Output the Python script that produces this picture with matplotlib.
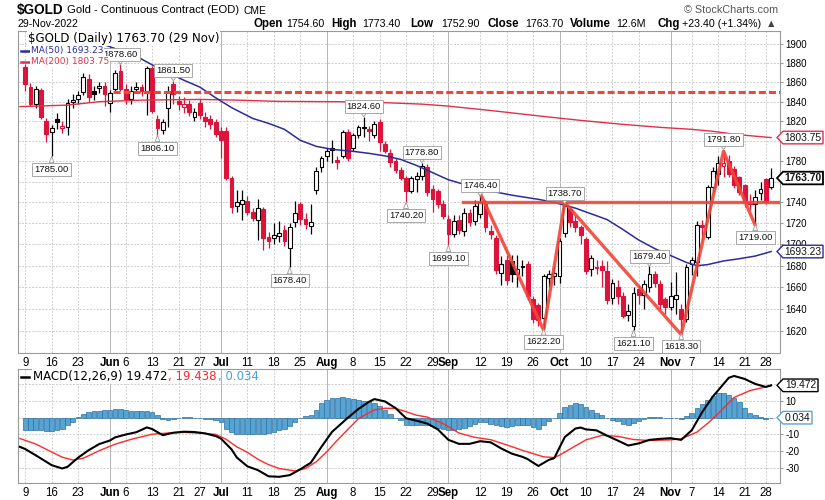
import numpy as np
import pandas as pd
import matplotlib
matplotlib.use("Agg")
import matplotlib.pyplot as plt
from matplotlib.patches import Polygon
from matplotlib.ticker import NullLocator, NullFormatter

plt.rcParams["font.family"] = ["Liberation Sans", "DejaVu Sans"]

W, H = 825, 500

# trading days shown on the chart
holidays = ["2022-05-30", "2022-06-20", "2022-07-04", "2022-09-05", "2022-11-24"]
days = pd.bdate_range("2022-05-09", "2022-11-29")
days = days[~days.isin(pd.to_datetime(holidays))]

# daily candles, grouped by week
opens = [1876, 1855, 1838, 1852, 1820,
         1809, 1822, 1813, 1814, 1840,
         1843, 1850, 1863, 1851, 1854,
         1856,
         1839, 1853, 1872,
         1853, 1843, 1853, 1855, 1851,
         1875, 1822, 1811, 1834, 1858,
         1841, 1835, 1838, 1824,
         1839, 1824, 1822, 1819,
         1810,
         1810, 1764, 1737, 1738,
         1741, 1731, 1723, 1734, 1707,
         1706, 1708, 1714, 1697, 1721,
         1738, 1724, 1717, 1752, 1775,
         1785, 1793, 1781, 1785, 1809,
         1793, 1806, 1813, 1812, 1806,
         1819.6, 1797, 1788, 1780, 1772,
         1764, 1751.4, 1763, 1766, 1775,
         1753, 1751, 1738,
         1724, 1710,
         1723, 1713, 1730, 1722,
         1729, 1738.5, 1713, 1706, 1673,
         1685.6, 1684, 1672, 1680, 1682,
         1649, 1644, 1632, 1669, 1670,
         1670, 1711, 1734, 1722, 1716,
         1705, 1677, 1678, 1680, 1675,
         1650, 1660, 1652, 1634.8, 1624.7,
         1658, 1653, 1660, 1672, 1663,
         1649,
         1642, 1649, 1640.5, 1631,
         1681.8, 1683.4, 1718, 1707, 1755,
         1768, 1775.5, 1780, 1772.4, 1764.5,
         1756.5, 1740, 1738.3, 1749.6,
         1762.5, 1754.6]
highs = [1879, 1859, 1856, 1854, 1823,
         1816, 1828, 1820, 1843, 1848,
         1851, 1869, 1868, 1856, 1860,
         1860,
         1852, 1873, 1878.6,
         1858, 1856, 1860, 1858, 1877,
         1877, 1826, 1822, 1856, 1861.5,
         1846, 1845, 1842, 1834,
         1843, 1830, 1826, 1822,
         1814,
         1814, 1766, 1752, 1752,
         1746, 1735, 1743, 1736, 1712,
         1720, 1722, 1718, 1720, 1741,
         1740, 1730, 1738, 1775, 1785,
         1793, 1801, 1785, 1811, 1812,
         1808, 1816, 1824.6, 1815, 1820,
         1822, 1800, 1792, 1783, 1775,
         1766, 1766, 1770, 1778.8, 1777,
         1757, 1753, 1742,
         1728, 1728,
         1728, 1735, 1734, 1742,
         1746.4, 1742, 1718, 1709, 1689,
         1690, 1690, 1690, 1685, 1684,
         1652, 1646, 1672, 1676, 1680,
         1706, 1738.7, 1737, 1728, 1718,
         1707, 1690, 1685, 1685, 1684,
         1668, 1667, 1656, 1645, 1660,
         1662, 1667, 1679.4, 1675, 1667,
         1651,
         1665, 1674, 1645, 1682,
         1688, 1722, 1723, 1757, 1775,
         1785, 1791.8, 1786, 1776, 1766,
         1758, 1748, 1752, 1760,
         1764, 1773.4]
lows = [1851, 1836, 1834, 1822, 1799,
        1785, 1812, 1808, 1806, 1834,
        1838, 1847, 1840, 1842, 1849,
        1836,
        1829, 1850, 1851,
        1838, 1838, 1849, 1846, 1826,
        1828, 1806.1, 1807, 1814, 1838,
        1832, 1828, 1825, 1820,
        1822, 1814, 1812, 1804,
        1783,
        1762, 1730, 1731, 1723,
        1728, 1722, 1704, 1695, 1697,
        1700, 1702, 1698, 1678.4, 1716,
        1718, 1715, 1710, 1748, 1770,
        1780, 1778.6, 1773, 1783, 1780,
        1790, 1803, 1804, 1800, 1803,
        1790, 1788, 1775, 1769, 1762,
        1740.2, 1749, 1750, 1762, 1746,
        1731, 1735, 1724,
        1699.1, 1707,
        1710, 1708, 1717, 1718,
        1725, 1712, 1705, 1672, 1662,
        1662, 1665, 1660, 1670, 1648,
        1627, 1625, 1622.2, 1660, 1662,
        1664, 1707, 1716, 1712, 1700,
        1672, 1670, 1672, 1660, 1645,
        1645, 1645, 1632, 1629, 1621.1,
        1645, 1640, 1656, 1660, 1640,
        1636,
        1639, 1636, 1618.3, 1628,
        1671, 1670, 1704, 1705, 1750,
        1757, 1765, 1765, 1754, 1747,
        1736, 1733, 1719, 1742,
        1738, 1752.9]
closes = [1858, 1838, 1853, 1824, 1807,
          1813, 1819, 1815, 1839, 1842,
          1847, 1865, 1845, 1848, 1856,
          1848,
          1849, 1870, 1853,
          1843, 1851, 1855, 1851, 1875,
          1831, 1813, 1819, 1850, 1848,
          1838, 1837.5, 1829, 1830,
          1826, 1820.5, 1817, 1807,
          1801,
          1764, 1736, 1740, 1742,
          1731, 1725, 1735, 1706, 1703,
          1709, 1711, 1703, 1716, 1730,
          1724, 1719, 1721, 1771, 1783,
          1790, 1791.5, 1779, 1809, 1783,
          1806, 1814, 1814.5, 1810, 1817,
          1799.4, 1790, 1779, 1772, 1764,
          1751.4, 1764.2, 1765.5, 1775.4, 1750,
          1743, 1738.5, 1727,
          1710, 1722.4,
          1714, 1730, 1721, 1737,
          1740, 1716, 1710, 1676, 1682,
          1666.4, 1672, 1677, 1679, 1652,
          1631, 1630, 1670, 1672, 1673,
          1703.5, 1737, 1721, 1716, 1709,
          1675, 1687.5, 1679, 1676, 1648.7,
          1664, 1652, 1634, 1638, 1655,
          1653, 1662.6, 1672.6, 1664, 1645,
          1642,
          1652, 1653, 1631, 1678.6,
          1684.9, 1718, 1716.5, 1754.9, 1770.8,
          1778.7, 1778, 1768, 1756.5, 1750,
          1740, 1738, 1745.6, 1753,
          1740.3, 1763.7]

# moving averages read at a few days (day number = trading-day index)
ma50_day = [8, 12, 15, 18, 21, 24, 27, 30, 33, 36, 39, 43, 46, 49, 52, 55, 58, 62, 65, 68, 71,
            74, 77, 80, 84, 88, 92, 97, 100, 104, 107, 110, 113, 116, 119, 122, 125, 127, 129,
            132, 135, 138, 141]
ma50_val = [1914, 1905, 1899, 1893, 1887, 1878, 1870, 1862, 1855, 1844, 1834, 1823, 1818, 1812,
            1801, 1795, 1792, 1790, 1788, 1785.5, 1782, 1776, 1769, 1762, 1756, 1751, 1747, 1743,
            1740, 1734.5, 1729, 1723.5, 1714, 1704, 1696, 1689.5, 1683, 1680, 1681, 1684.4,
            1686.5, 1689, 1693.23]
ma200_day = [-1, 8, 14, 22, 33, 40, 48, 59, 68, 75, 80, 88, 97, 105, 113, 120, 126, 130, 135, 141]
ma200_val = [1835, 1836.5, 1840, 1841.6, 1842.3, 1841.6, 1840.3, 1840, 1839, 1837.5, 1835.5,
             1831, 1825.6, 1821, 1817, 1814, 1812, 1810, 1806.5, 1803.75]

# swing labels
swing_dates = ["2022-05-16", "2022-06-03", "2022-06-14", "2022-06-17", "2022-07-21",
               "2022-08-10", "2022-08-22", "2022-08-25", "2022-09-01", "2022-09-12",
               "2022-09-28", "2022-10-04", "2022-10-21", "2022-10-26", "2022-11-03",
               "2022-11-15", "2022-11-23"]
swing_prices = [1785.00, 1878.60, 1806.10, 1861.50, 1678.40, 1824.60, 1740.20, 1778.80,
                1699.10, 1746.40, 1622.20, 1738.70, 1621.10, 1679.40, 1618.30, 1791.80, 1719.00]
swing_sides = ["low", "high", "low", "high", "low", "high", "low", "high", "low", "high",
               "low", "high", "low", "high", "low", "high", "low"]

# hand-drawn lines
zig_dates = ["2022-09-12", "2022-09-28", "2022-10-04", "2022-11-03", "2022-11-15", "2022-11-23"]
zig_vals = [1749, 1621, 1740, 1617, 1790, 1718]
resist_level = 1740
resist_start = 82.8
dash_level = 1850
dash_start = 16.6

# MACD(12,26,9)
macd_day = [-1, 0, 2, 4, 5, 7, 8, 10, 12, 14, 16, 17, 19, 21, 23, 24, 26, 28, 30, 32, 34, 36, 37,
            39, 40, 42, 44, 46, 48, 50, 52, 54, 56, 58, 61, 63, 65, 66, 68, 70, 72, 74, 76, 78,
            80, 82, 84, 86, 88, 90, 92, 94, 95, 97, 99, 100, 102, 104, 105, 106, 108, 110, 112,
            114, 116, 118, 120, 122, 124, 126, 128, 130, 131, 133, 134, 136, 138, 140, 141]
macd_val = [-17.5, -18.8, -22.6, -26.5, -28.5, -30.5, -29.5, -24, -19.5, -15.8, -13.7, -11.8,
            -10.1, -8.7, -5.8, -6.8, -10.5, -9, -8.4, -8.6, -9.4, -11, -12.5, -19, -23.9, -29.2,
            -31.5, -35.2, -35.5, -34.5, -31, -27, -17.5, -8.5, 0, 5.3, 9.6, 11.2, 9.8, 5.8, -0.3,
            -1.8, -3.5, -7, -13.3, -15.7, -15.7, -14.1, -14.8, -18.5, -21.6, -23.5, -24.9, -29,
            -25.3, -24.3, -11.6, -6.5, -5.9, -7, -7.6, -10.8, -13.7, -16.7, -15.4, -13.3, -12.7,
            -12.3, -13.3, -7.5, 3.5, 12.8, 16.5, 24, 25.1, 23.3, 20.3, 18.5, 19.472]
signal_day = [-1, 2, 5, 7, 9, 11, 14, 17, 20, 24, 27, 30, 33, 36, 38, 40, 42, 44, 46, 48, 51, 53,
              55, 57, 59, 61, 63, 66, 68, 70, 72, 74, 76, 79, 82, 85, 88, 91, 94, 98, 100, 101,
              103, 106, 109, 112, 115, 118, 122, 124, 127, 129, 131, 132, 134, 137, 139, 141]
signal_val = [-12.5, -15.8, -20.6, -23.7, -25.4, -24.3, -19.8, -15.9, -13, -9.9, -9.2, -8.8,
              -9.2, -10, -13, -17.5, -20.8, -25, -28.2, -30.5, -32, -30.5, -26.5, -20.5, -13.5,
              -7, -0.5, 4.7, 5.7, 5.6, 3.6, 1.5, 0.4, -3.5, -9.2, -11.8, -13.2, -16.3, -19.6,
              -23.5, -23.9, -22.5, -18.8, -13.3, -10.6, -11.2, -13.1, -13.7, -13.3, -12.7, -8.6,
              -3.4, 2.5, 5.7, 12.2, 16.3, 17.8, 19.438]
hist_val = [-7.6, -7.6, -7.6, -7.6, -8.0, -8.0, -7.6, -6.5, -4.5, -2.4,
            0.2, 2.2, 3.5, 3.9, 4.3, 4.5, 4.7, 5.1, 5.5, 4.7,
            4.3, 4.1, 4.1, 4.1, 3.7, 1.6, -1.0, -1.4, -0.6, 0.0,
            0.2, 0.2, 0.0, -0.2, -0.6, -1.0, -1.4, -2.4, -6.5, -8.6,
            -9.6, -9.6, -9.6, -9.6, -9.6, -9.6, -9.2, -8.6, -7.6, -6.5,
            -5.1, -2.4, 0.0, 1.0, 1.6, 4.7, 8.8, 10.8, 11.6, 11.8,
            12.4, 11.8, 11.4, 10.8, 10.2, 9.8, 8.8, 7.1, 4.7, 2.2,
            -0.4, -1.4, -4.5, -4.5, -4.5, -4.5, -4.5, -5.1, -5.9, -6.5,
            -7.6, -7.1, -6.5, -5.9, -5.1, -3.9, -2.4, -2.4, -3.5, -4.5,
            -5.1, -5.5, -5.1, -4.5, -4.3, -4.5, -5.5, -6.5, -4.5, -2.0,
            -0.4, 3.1, 6.7, 7.8, 8.8, 8.4, 6.7, 4.7, 3.1, 1.6,
            -0.4, -1.4, -2.0, -3.5, -4.5, -3.1, -1.8, -1.0, 0.2, 0.6,
            0.2, -0.4, -0.4, 0.0, -1.0, 1.0, 2.7, 5.7, 8.2, 10.8,
            13.3, 14.9, 14.9, 13.9, 11.8, 9.2, 5.7, 3.1, 1.6, 0.6,
            -0.8, 0.034]

tick_dates = ["2022-05-09", "2022-05-16", "2022-05-23", "2022-06-01", "2022-06-06",
              "2022-06-13", "2022-06-21", "2022-06-27", "2022-07-01", "2022-07-11",
              "2022-07-18", "2022-07-25", "2022-08-01", "2022-08-08", "2022-08-15",
              "2022-08-22", "2022-08-29", "2022-09-01", "2022-09-12", "2022-09-19",
              "2022-09-26", "2022-10-03", "2022-10-10", "2022-10-17", "2022-10-24",
              "2022-11-01", "2022-11-07", "2022-11-14", "2022-11-21", "2022-11-28"]
tick_text = ["9", "16", "23", "Jun", "6", "13", "21", "27", "Jul", "11", "18", "25", "Aug",
             "8", "15", "22", "29", "Sep", "12", "19", "26", "Oct", "10", "17", "24", "Nov",
             "7", "14", "21", "28"]
months = ["Jun", "Jul", "Aug", "Sep", "Oct", "Nov"]

# price levels whose axis label sits under a value tag
hidden_price_labels = [1800, 1760]
hidden_macd_labels = [0, 20]

n = len(closes)
assert len(opens) == len(highs) == len(lows) == n == len(days) == len(hist_val)
assert len(ma50_day) == len(ma50_val) and len(ma200_day) == len(ma200_val)
assert len(macd_day) == len(macd_val) and len(signal_day) == len(signal_val)


def day_index(d):
    return days.get_loc(pd.Timestamp(d))


RED = "#dc143c"
GRID = "#cdcdcd"
MONTH_GRID = "#b4b4b4"
FRAME = "#9a9a9a"
TREND = "#f0453a"

fig = plt.figure(figsize=(W / 100, H / 100), dpi=100)
ax = fig.add_axes([18 / W, 1 - 353.3 / H, 762 / W, 322.6 / H])
ax2 = fig.add_axes([18 / W, 1 - 483.3 / H, 762 / W, 114 / H])

tick_pos = [day_index(d) for d in tick_dates]
for a in (ax, ax2):
    a.set_xlim(-1.36, 142.68)
    for s in a.spines.values():
        s.set_color(FRAME)
        s.set_linewidth(0.8)
    for p, t in zip(tick_pos, tick_text):
        a.axvline(p, color=MONTH_GRID if t in months else GRID, lw=0.7,
                  ls="-" if t in months else (0, (2, 1.5)), zorder=0.5)
    a.set_xticks(tick_pos)
    a.set_xticklabels(tick_text)
    for lab in a.get_xticklabels():
        if lab.get_text() in months:
            lab.set_fontweight("bold")
    a.tick_params(axis="x", length=0, pad=3, labelsize=8.3)
    a.tick_params(axis="y", left=False, labelleft=False, right=True, labelright=True,
                  length=2.5, color=FRAME, pad=1.5, labelsize=7)

# ---- price panel
ax.set_yscale("log")
ax.set_ylim(1600.3, 1913.9)
ax.yaxis.set_minor_locator(NullLocator())
ax.yaxis.set_minor_formatter(NullFormatter())
yt = list(range(1620, 1901, 20))
ax.set_yticks(yt)
ax.set_yticklabels(["" if v in hidden_price_labels else str(v) for v in yt])
for v in yt:
    ax.axhline(v, color=GRID, lw=0.7, ls=(0, (2, 1.5)), zorder=0.5)

x = np.arange(n)
o = np.array(opens, float)
c = np.array(closes, float)
rising = np.r_[False, c[1:] >= c[:-1]]
cols = np.where(rising, "black", RED)
hollow = c > o
faces = [("white" if h else col) for h, col in zip(hollow, cols)]
bottoms = np.minimum(o, c)
heights = np.maximum(np.abs(c - o), 0.8)

ax.vlines(x, lows, highs, colors=cols, lw=0.9, zorder=2)
ax.bar(x, heights, bottom=bottoms, width=0.72, color=faces, edgecolor=cols, lw=0.8, zorder=3)

ax.plot(ma200_day, ma200_val, color="#e0304a", lw=1.0, zorder=4)
ax.plot(ma50_day, ma50_val, color="#2b2b9e", lw=1.1, zorder=4)

ax.plot([dash_start, 142.68], [dash_level, dash_level], color=TREND, lw=2.2,
        ls=(0, (2.3, 1.0)), zorder=5)
ax.plot([resist_start, 142.68], [resist_level, resist_level], color=TREND, lw=2.4,
        alpha=0.9, zorder=5)
ax.plot([day_index(d) for d in zig_dates], zig_vals, color=TREND, lw=2.4, alpha=0.9,
        solid_capstyle="round", zorder=5)

for d, v, side in zip(swing_dates, swing_prices, swing_sides):
    off = 7.3 if side == "high" else -9.5
    ax.annotate(f"{v:.2f}", xy=(day_index(d), v), xytext=(0, off), textcoords="offset points",
                ha="center", va="center", fontsize=6.8, color="#111", zorder=7,
                bbox=dict(boxstyle="square,pad=0.22", fc="white", ec="#9a9a9a", lw=0.6),
                arrowprops=dict(arrowstyle="wedge,tail_width=0.5,shrink_factor=0.5",
                                fc="white", ec="#9a9a9a", lw=0.6, shrinkA=0, shrinkB=0))

# ---- MACD panel
ax2.set_ylim(-39.4, 29.1)
mt = [-30, -20, -10, 0, 10, 20]
ax2.set_yticks(mt)
ax2.set_yticklabels(["" if v in hidden_macd_labels else str(v) for v in mt])
for v in mt:
    ax2.axhline(v, color=GRID, lw=0.7, ls=(0, (2, 1.5)), zorder=0.5)
ax2.bar(x, hist_val, width=0.88, color="#55a4d4", edgecolor="#2e6e9e", lw=0.5, zorder=2)
ax2.plot(signal_day, signal_val, color="#ff2a2a", lw=1.0, zorder=3)
ax2.plot(macd_day, macd_val, color="black", lw=1.5, zorder=4)


# ---- text and tags
def fx(p):
    return p / W


def fy(p):
    return 1 - p / H


def tag(axis, value, label, edge, x_right, bold=False, lw=1.0):
    disp = axis.transData.transform((0, value))
    yf = fig.transFigure.inverted().transform(disp)[1]
    hh = 6.3 / H
    pts = [(fx(777), yf), (fx(783), yf + hh), (fx(x_right), yf + hh),
           (fx(x_right), yf - hh), (fx(783), yf - hh)]
    fig.add_artist(Polygon(pts, closed=True, transform=fig.transFigure, facecolor="white",
                           edgecolor=edge, lw=lw, zorder=5))
    fig.text((fx(783) + fx(x_right)) / 2, yf, label, ha="center", va="center", fontsize=7.4,
             fontweight="bold" if bold else "normal", color="#111", zorder=6)


tag(ax, ma200_val[-1], f"{ma200_val[-1]:.2f}", "#e0304a", 823)
tag(ax, closes[-1], f"{closes[-1]:.2f}", "black", 823, bold=True, lw=1.3)
tag(ax, ma50_val[-1], f"{ma50_val[-1]:.2f}", "#2b2b9e", 823)
tag(ax2, macd_val[-1], f"{macd_val[-1]:.3f}", "black", 818)
tag(ax2, hist_val[-1], f"{hist_val[-1]:.3f}", "#5aa5d8", 812)

fig.text(fx(17), fy(10), "$GOLD", fontsize=9.8, fontweight="bold", va="center")
fig.text(fx(67), fy(10), "Gold - Continuous Contract (EOD)", fontsize=8.1, va="center")
fig.text(fx(243), fy(10.5), "CME", fontsize=7.4, va="center")
fig.text(fx(17), fy(24), "29-Nov-2022", fontsize=7.6, va="center")
fig.text(fx(778), fy(10), "\u00a9 StockCharts.com", fontsize=7.8, va="center", ha="right",
         color="#555555")

head_txt = ["Open", "1754.60", "High", "1773.40", "Low", "1752.90", "Close", "1763.70",
            "Volume", "12.6M", "Chg", "+23.40 (+1.34%)", "\u25b2"]
head_x = [254, 286, 331, 362, 410, 441, 487, 525, 570, 616, 658, 682, 766]
for k, (t, px) in enumerate(zip(head_txt, head_x)):
    bold = k % 2 == 0 and k < 12
    fig.text(fx(px), fy(24), t, fontsize=8.3 if bold else 7.7,
             fontweight="bold" if bold else "normal", va="center",
             color="#444444" if t == "\u25b2" else "black")

leg_bg = dict(fc="white", ec="none", pad=0.6)
fig.text(fx(28), fy(38.3), "$GOLD (Daily) 1763.70 (29 Nov)", family="DejaVu Sans",
         fontsize=8.5, va="center", bbox=leg_bg, zorder=8)
fig.add_artist(plt.Line2D([fx(21), fx(29)], [fy(50.5), fy(50.5)], color="#2b2b9e", lw=1.8))
fig.text(fx(31), fy(50.5), "MA(50) 1693.23", family="DejaVu Sans", fontsize=6.5,
         color="#2b2b9e", va="center", bbox=leg_bg, zorder=8)
fig.add_artist(plt.Line2D([fx(21), fx(29)], [fy(61.7), fy(61.7)], color="#e0304a", lw=1.8))
fig.text(fx(31), fy(61.7), "MA(200) 1803.75", family="DejaVu Sans", fontsize=6.5,
         color="#e0304a", va="center", bbox=leg_bg, zorder=8)

fig.add_artist(plt.Line2D([fx(21), fx(29)], [fy(376.7), fy(376.7)], color="black", lw=1.8))
fig.text(fx(33), fy(376.7), "MACD(12,26,9) 19.472", family="DejaVu Sans", fontsize=8.5,
         va="center", bbox=leg_bg, zorder=8)
fig.text(fx(168), fy(376.7), ", 19.438", family="DejaVu Sans", fontsize=8.5, va="center",
         color="#ff2a2a", zorder=8)
fig.text(fx(218), fy(376.7), ", 0.034", family="DejaVu Sans", fontsize=8.5, va="center",
         color="#4aa0d8", zorder=8)

fig.savefig("out.png", dpi=100, facecolor="white")
